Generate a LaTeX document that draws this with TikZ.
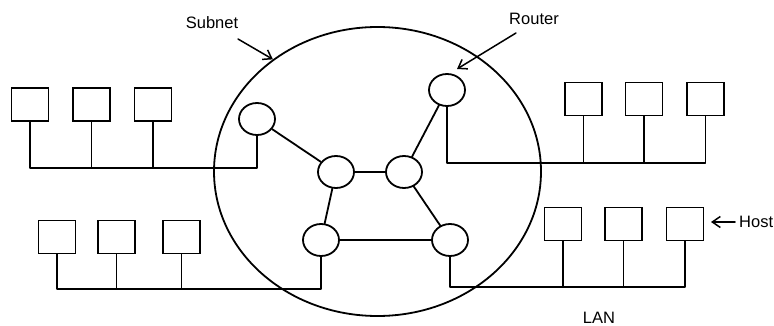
\documentclass[tikz,border=0pt]{standalone}
\usepackage{fontspec}
\setmainfont{Liberation Sans}
\usetikzlibrary{shapes.geometric,arrows.meta}

\tikzset{
  wire/.style={line width=1.8pt, line cap=round, line join=round},
  router/.style={ellipse, draw, line width=1.8pt, minimum width=36pt, minimum height=32pt, inner sep=0pt},
  host/.style={rectangle, draw, line width=1.8pt, minimum width=37pt, minimum height=33pt, inner sep=0pt},
  label/.style={font=\fontsize{16.5}{19}\selectfont, inner sep=0pt},
  pointer/.style={wire, line width=1.5pt, -{Straight Barb[length=8pt,width=11pt,line width=1.5pt]}},
}

\begin{document}
\begin{tikzpicture}[x=1pt, y=-1pt]
  \useasboundingbox (0,0) rectangle (774,326);

  % subnet boundary
  \node[ellipse, draw, line width=1.8pt, minimum width=327pt, minimum height=289pt, inner sep=0pt] (subnet) at (377.5,171.5) {};

  % routers
  \node[router] (R1) at (257,119) {};
  \node[router] (R2) at (447,90) {};
  \node[router] (R3) at (336,172) {};
  \node[router] (R4) at (404,172) {};
  \node[router] (R5) at (321,240) {};
  \node[router] (R6) at (450,240) {};

  % links between routers
  \draw[wire] (R1) -- (R3);
  \draw[wire] (R2) -- (R4);
  \draw[wire] (R3) -- (R4);
  \draw[wire] (R3) -- (R5);
  \draw[wire] (R4) -- (R6);
  \draw[wire] (R5) -- (R6);

  % hosts, upper left LAN
  \node[host] (a1) at (30,104.5) {};
  \node[host] (a2) at (91.5,104.5) {};
  \node[host] (a3) at (153,104.5) {};
  % hosts, upper right LAN
  \node[host] (b1) at (583.5,99) {};
  \node[host] (b2) at (644,99) {};
  \node[host] (b3) at (705.5,99) {};
  % hosts, lower left LAN
  \node[host] (c1) at (57,237) {};
  \node[host] (c2) at (116.5,237) {};
  \node[host] (c3) at (181.5,237) {};
  % hosts, lower right LAN
  \node[host] (d1) at (563,224) {};
  \node[host] (d2) at (623.5,224) {};
  \node[host] (d3) at (685,224) {};

  % bus levels
  \coordinate (busA) at (0,168);
  \coordinate (busB) at (0,163);
  \coordinate (busC) at (0,289);
  \coordinate (busD) at (0,287);

  % LAN buses
  \draw[wire] (R1.south) -- (R1.south |- busA) -| (a1.south);
  \draw[wire] (a2.south) -- (a2.south |- busA);
  \draw[wire] (a3.south) -- (a3.south |- busA);

  \draw[wire] (R2.south) -- (R2.south |- busB) -| (b3.south);
  \draw[wire] (b1.south) -- (b1.south |- busB);
  \draw[wire] (b2.south) -- (b2.south |- busB);

  \draw[wire] (R5.south) -- (R5.south |- busC) -| (c1.south);
  \draw[wire] (c2.south) -- (c2.south |- busC);
  \draw[wire] (c3.south) -- (c3.south |- busC);

  \draw[wire] (R6.south) -- (R6.south |- busD) -| (d3.south);
  \draw[wire] (d1.south) -- (d1.south |- busD);
  \draw[wire] (d2.south) -- (d2.south |- busD);

  % labels
  \node[label] (subnetText) at (212,23) {Subnet};
  \node[label] (routerText) at (534,19) {Router};
  \node[label, anchor=west] (hostText) at (739,222) {Host};
  \node[label] (lanText) at (599,318) {LAN};

  % pointers
  \coordinate (subnetTail) at (238,39);
  \coordinate (routerTail) at (516,33);
  \coordinate (routerTip) at (457,69);
  \coordinate (hostTail) at (735,222);
  \coordinate (hostTip) at (711,222);

  \draw[pointer] (subnetTail) -- (subnet.133);
  \draw[pointer] (routerTail) -- (routerTip);
  \draw[pointer] (hostTail) -- (hostTip);
\end{tikzpicture}
\end{document}
